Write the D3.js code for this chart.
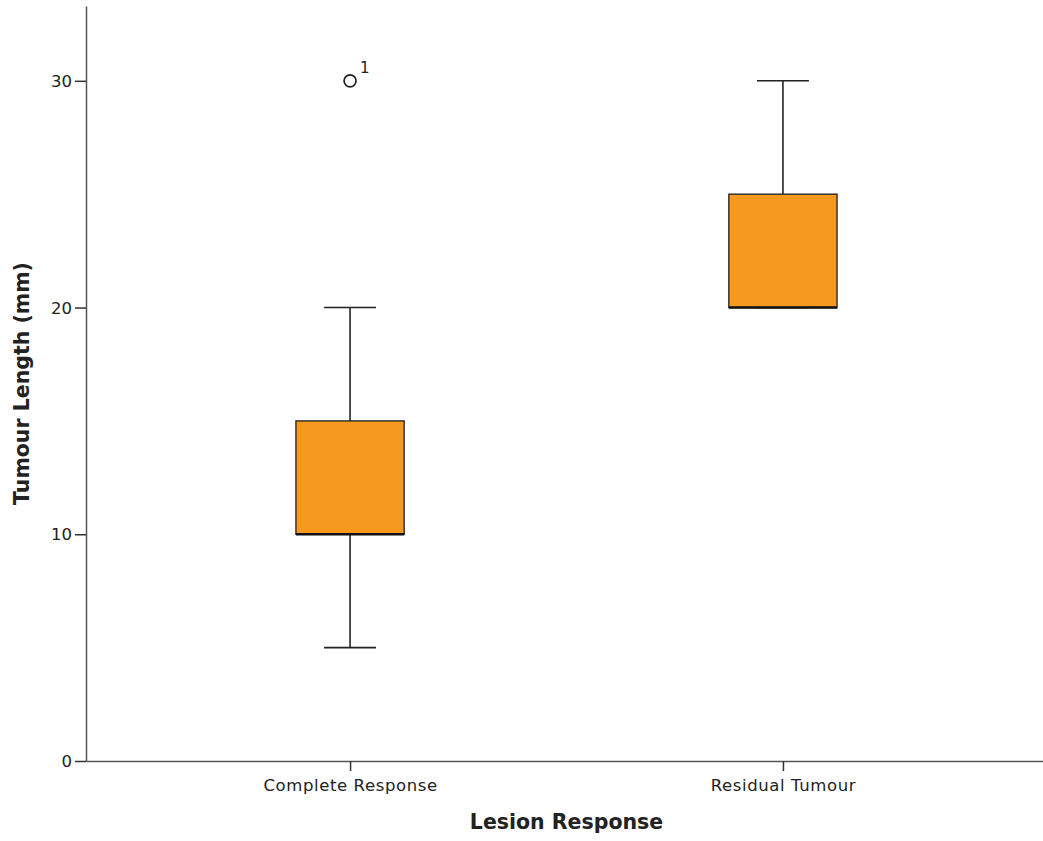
<!DOCTYPE html>
<html>
<head>
<meta charset="utf-8">
<script src="https://cdn.jsdelivr.net/npm/d3@7"></script>
<style>
  html, body { margin: 0; padding: 0; background: #fff; }
  svg text { font-family: "DejaVu Sans", sans-serif; fill: #222; }
</style>
</head>
<body>
<svg id="chart" width="1043" height="841"></svg>
<script>
// Box plot summary per lesion response group
const categories = ["Complete Response", "Residual Tumour"];
const whiskerLow = [5, 20];
const q1 = [10, 20];
const medians = [10, 20];
const q3 = [15, 25];
const whiskerHigh = [20, 30];
const outliers = [{ category: "Complete Response", value: 30, label: "1" }];
const yTicks = [0, 10, 20, 30];

const svg = d3.select("#chart");
const margin = { left: 86, top: 6, right: -4, bottom: 80 };
const W = 1043, H = 841;

const x = d3.scalePoint()
  .domain(categories)
  .range([margin.left, W - margin.right])
  .padding(0.61);

const y = d3.scaleLinear()
  .domain([0, 33.3])
  .range([H - margin.bottom, margin.top]);

const boxW = x.step() * 0.25;
const capW = boxW * 0.48;

// Axes
const yAxis = svg.append("g")
  .attr("transform", `translate(${margin.left},0)`)
  .call(d3.axisLeft(y).tickValues(yTicks).tickSize(11).tickSizeOuter(0).tickPadding(3));
const xAxis = svg.append("g")
  .attr("transform", `translate(0,${y(0)})`)
  .call(d3.axisBottom(x).tickSize(10).tickSizeOuter(0).tickPadding(8));

[yAxis, xAxis].forEach(g => {
  g.select(".domain").attr("stroke", "#555").attr("stroke-width", 1.5);
  g.selectAll(".tick line").attr("stroke", "#333").attr("stroke-width", 1.5);
  g.selectAll(".tick text").style("font-size", "16.5px").attr("fill", "#222");
});
yAxis.selectAll(".tick text").attr("dy", "0.34em");
xAxis.selectAll(".tick text").style("letter-spacing", "0.6px");

// Boxes
const groups = svg.append("g").selectAll("g")
  .data(categories.map((c, i) => ({
    c, lo: whiskerLow[i], q1: q1[i], med: medians[i], q3: q3[i], hi: whiskerHigh[i]
  })))
  .join("g");

// whisker stems
groups.append("line")
  .attr("x1", d => x(d.c)).attr("x2", d => x(d.c))
  .attr("y1", d => y(d.q3)).attr("y2", d => y(d.hi))
  .attr("stroke", "#222").attr("stroke-width", 1.6);
groups.append("line")
  .attr("x1", d => x(d.c)).attr("x2", d => x(d.c))
  .attr("y1", d => y(d.q1)).attr("y2", d => y(d.lo))
  .attr("stroke", "#222").attr("stroke-width", 1.6);
// whisker caps
groups.append("line")
  .attr("x1", d => x(d.c) - capW / 2).attr("x2", d => x(d.c) + capW / 2)
  .attr("y1", d => y(d.hi)).attr("y2", d => y(d.hi))
  .attr("stroke", "#222").attr("stroke-width", 1.6);
groups.append("line")
  .attr("x1", d => x(d.c) - capW / 2).attr("x2", d => x(d.c) + capW / 2)
  .attr("y1", d => y(d.lo)).attr("y2", d => y(d.lo))
  .attr("stroke", "#222").attr("stroke-width", 1.6);
// box
groups.append("rect")
  .attr("x", d => x(d.c) - boxW / 2)
  .attr("width", boxW)
  .attr("y", d => y(d.q3))
  .attr("height", d => y(d.q1) - y(d.q3))
  .attr("fill", "#f7991f")
  .attr("stroke", "#2a2a2a").attr("stroke-width", 1.4);
// median
groups.append("line")
  .attr("x1", d => x(d.c) - boxW / 2).attr("x2", d => x(d.c) + boxW / 2)
  .attr("y1", d => y(d.med)).attr("y2", d => y(d.med))
  .attr("stroke", "#111").attr("stroke-width", 2.6);

// Outliers
const out = svg.append("g").selectAll("g").data(outliers).join("g");
out.append("circle")
  .attr("cx", d => x(d.category)).attr("cy", d => y(d.value))
  .attr("r", 6)
  .attr("fill", "#fff").attr("stroke", "#222").attr("stroke-width", 1.7);
out.append("text")
  .attr("x", d => x(d.category) + 10).attr("y", d => y(d.value) - 8)
  .style("font-size", "15px")
  .text(d => d.label);

// Axis titles
svg.append("text")
  .attr("x", (margin.left + W - margin.right) / 2)
  .attr("y", 829)
  .attr("text-anchor", "middle")
  .style("font-size", "20.5px").style("font-weight", "bold")
  .text("Lesion Response");
svg.append("text")
  .attr("transform", `translate(29,${(y(0) + margin.top) / 2}) rotate(-90)`)
  .attr("text-anchor", "middle")
  .style("font-size", "20.5px").style("font-weight", "bold")
  .text("Tumour Length (mm)");
</script>
</body>
</html>
